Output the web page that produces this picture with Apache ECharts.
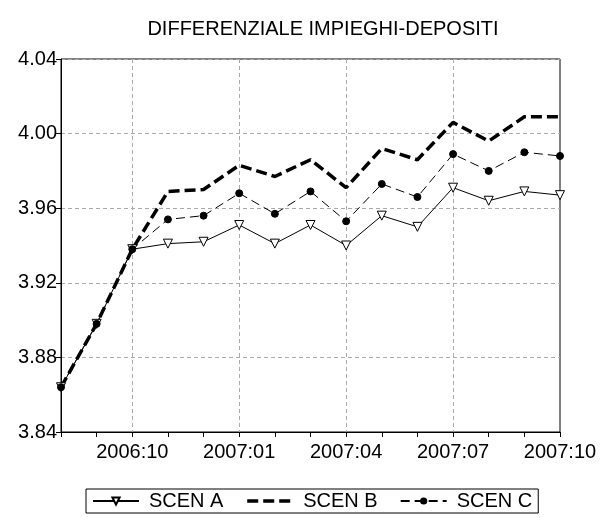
<!DOCTYPE html>
<html>
<head>
<meta charset="utf-8">
<script src="https://cdn.jsdelivr.net/npm/echarts@6/dist/echarts.min.js"></script>
<style>
  html, body { margin: 0; padding: 0; background: #fff; }
  #chart { width: 600px; height: 518px; }
</style>
</head>
<body>
<div id="chart"></div>
<script>
const months = ['2006:08', '2006:09', '2006:10', '2006:11', '2006:12', '2007:01', '2007:02', '2007:03',
  '2007:04', '2007:05', '2007:06', '2007:07', '2007:08', '2007:09', '2007:10']
const scenA = [3.864, 3.898, 3.938, 3.941, 3.942, 3.951, 3.941, 3.951, 3.940, 3.956, 3.950, 3.971, 3.964, 3.969, 3.967]
const scenB = [3.864, 3.898, 3.938, 3.969, 3.970, 3.983, 3.977, 3.986, 3.971, 3.992, 3.986, 4.006, 3.996, 4.009, 4.009]
const scenC = [3.864, 3.898, 3.938, 3.954, 3.956, 3.968, 3.957, 3.969, 3.953, 3.973, 3.966, 3.989, 3.980, 3.990, 3.988]

const FONT = 'Liberation Sans'
const chart = echarts.init(document.getElementById('chart'))

// label every third month, starting at 2006:10
const isLabelMonth = (i) => i % 3 === 2

chart.setOption({
  animation: false,
  textStyle: { fontFamily: FONT, color: '#000' },
  title: {
    text: 'DIFFERENZIALE IMPIEGHI-DEPOSITI',
    left: 318,
    top: 14,
    textAlign: 'center',
    textStyle: { fontFamily: FONT, fontSize: 20, fontWeight: 'normal', color: '#000' },
  },
  grid: {
    left: 61, right: 40, top: 59, bottom: 86,
    show: true, borderColor: '#000', borderWidth: 1,
  },
  legend: {
    bottom: 5,
    left: 86,
    itemWidth: 46,
    itemHeight: 9,
    itemGap: 22,
    padding: [2, 6, 2, 6],
    borderColor: '#000',
    borderWidth: 1,
    textStyle: { fontFamily: FONT, fontSize: 20, color: '#000', padding: [0, 0, 0, 5] },
    data: [
      'SCEN A',
      { name: 'SCEN B', itemStyle: { opacity: 0 }, lineStyle: { width: 3.5, type: [11, 5] } },
      'SCEN C',
    ],
  },
  xAxis: {
    type: 'category',
    data: months,
    boundaryGap: false,
    axisLine: { lineStyle: { color: '#000', width: 1 } },
    axisTick: { show: true, interval: 0, length: 5, lineStyle: { color: '#000' } },
    axisLabel: { interval: (i) => isLabelMonth(i), fontSize: 20, color: '#000', margin: 10, fontFamily: FONT },
    splitLine: {
      show: true,
      interval: (i) => isLabelMonth(i) && i < months.length - 1,
      lineStyle: { color: '#aaa', type: [4, 3], width: 1 },
    },
  },
  yAxis: {
    type: 'value',
    min: 3.84,
    max: 4.04,
    interval: 0.04,
    axisLine: { show: true, lineStyle: { color: '#000', width: 1 } },
    axisTick: { show: true, length: 5, lineStyle: { color: '#000' } },
    axisLabel: { formatter: (v) => v.toFixed(2), fontSize: 20, color: '#000', margin: 4, fontFamily: FONT },
    splitLine: { show: true, lineStyle: { color: '#aaa', type: [4, 3], width: 1 } },
  },
  series: [
    {
      name: 'SCEN A',
      type: 'line',
      data: scenA,
      symbol: 'triangle',
      symbolRotate: 180,
      symbolSize: 9,
      showSymbol: true,
      itemStyle: { color: '#fff', borderColor: '#000', borderWidth: 1 },
      lineStyle: { color: '#000', width: 1 },
      z: 3,
    },
    {
      name: 'SCEN B',
      type: 'line',
      data: scenB,
      symbol: 'none',
      itemStyle: { color: '#000' },
      lineStyle: { color: '#000', width: 3.5, type: [11, 5] },
      z: 2,
    },
    {
      name: 'SCEN C',
      type: 'line',
      data: scenC,
      symbol: 'circle',
      symbolSize: 7,
      itemStyle: { color: '#000', borderColor: '#000' },
      lineStyle: { color: '#000', width: 1, type: [9, 5] },
      z: 3,
    },
  ],
})
</script>
</body>
</html>
